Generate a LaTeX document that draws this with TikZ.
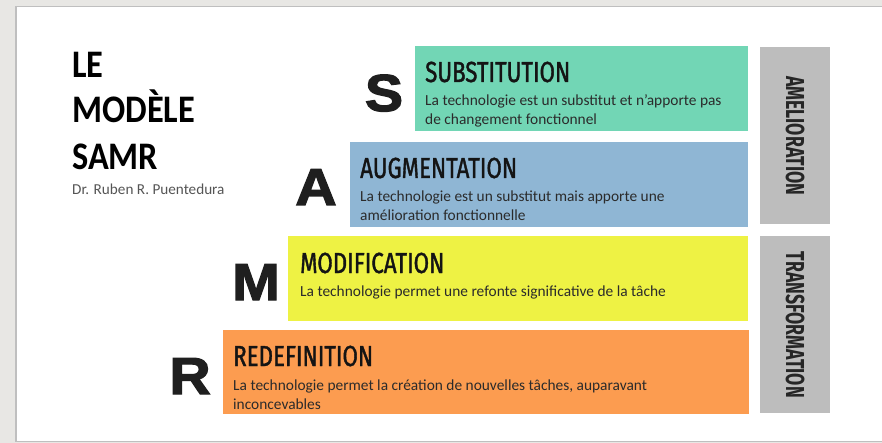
\documentclass[tikz,border=0pt]{standalone}
\usepackage{fontspec}
\setmainfont{Carlito}
\newfontfamily\headfont[FakeStretch=0.77,FakeBold=1.3]{Fira Sans}
\newfontfamily\sidefont[FakeStretch=0.68]{Fira Sans}
\newfontfamily\titlefont[FakeStretch=0.88]{Carlito}
\newfontfamily\bigfont[FakeStretch=1.1,FakeBold=2.5]{Liberation Sans}
\definecolor{bgc}{HTML}{E8E7E4}
\definecolor{scol}{HTML}{72D6B5}
\definecolor{acol}{HTML}{8FB6D4}
\definecolor{mcol}{HTML}{EEF244}
\definecolor{rcol}{HTML}{FC9C50}
\definecolor{gcol}{HTML}{BDBDBD}
\definecolor{bodytxt}{HTML}{2B2B2B}
\definecolor{subtxt}{HTML}{555555}
\tikzset{
  box/.style={draw=none, inner sep=0pt, anchor=north west},
  head/.style={inner sep=0pt, anchor=base west, text=black!92, font=\headfont\fontsize{29}{30}\selectfont},
  body/.style={inner sep=0pt, anchor=base west, text=bodytxt, font=\fontsize{15.4}{19}\selectfont},
  big/.style={inner sep=0pt, anchor=base, text=black!88, font=\bigfont\bfseries\fontsize{52}{54}\selectfont},
  side/.style={inner sep=0pt, rotate=-90, text=black!85, font=\sidefont\bfseries\fontsize{26}{27}\selectfont},
  title/.style={inner sep=0pt, anchor=base west, text=black, font=\titlefont\bfseries\fontsize{39}{40}\selectfont},
}
\begin{document}
\begin{tikzpicture}[x=1pt,y=-1pt]
\useasboundingbox (0,0) rectangle (882,443);
\fill[bgc] (0,0) rectangle (882,443);
\fill[black!25] (15,6) rectangle (882,442);
\fill[white] (17,7) rectangle (882,441);
% title
\node[title] (t1) at (72,78) {LE};
\node[title] (t2) at (72,123) {MODÈLE};
\node[title] (t3) at (72,170) {SAMR};
\node[inner sep=0pt, anchor=base west, text=subtxt, font=\fontsize{15.2}{17}\selectfont] (t4) at (72,195) {Dr. Ruben R. Puentedura};
% boxes
\node[box, fill=scol, minimum width=333pt, minimum height=85pt] (S) at (415,46) {};
\node[box, fill=acol, minimum width=398pt, minimum height=85pt] (A) at (350,142) {};
\node[box, fill=mcol, minimum width=460pt, minimum height=85pt] (M) at (288,236) {};
\node[box, fill=rcol, minimum width=526pt, minimum height=84pt] (R) at (223,330) {};
% side boxes
\node[box, fill=gcol, minimum width=70pt, minimum height=177pt] (G1) at (760,47) {};
\node[box, fill=gcol, minimum width=70pt, minimum height=177pt] (G2) at (760,236) {};
\node[side] (g1t) at (G1.center) {AMELIORATION};
\node[side] (g2t) at (G2.center) {TRANSFORMATION};
% big letters
\node[big] (LS) at (384,111) {S};
\node[big] (LA) at (316,205) {A};
\node[big] (LM) at (256,300) {M};
\node[big] (LR) at (190,394) {R};
% texts
\node[head] (Sh) at ([shift={(10,36)}]S.north west) {SUBSTITUTION};
\node[body] (Sb1) at ([shift={(10,60)}]S.north west) {La technologie est un substitut et n’apporte pas};
\node[body] (Sb2) at ([shift={(10,79)}]S.north west) {de changement fonctionnel};
\node[head] (Ah) at ([shift={(10,36)}]A.north west) {AUGMENTATION};
\node[body] (Ab1) at ([shift={(10,60)}]A.north west) {La technologie est un substitut mais apporte une};
\node[body] (Ab2) at ([shift={(10,79)}]A.north west) {amélioration fonctionnelle};
\node[head] (Mh) at ([shift={(12,37)}]M.north west) {MODIFICATION};
\node[body] (Mb1) at ([shift={(12,60)}]M.north west) {La technologie permet une refonte significative de la tâche};
\node[head] (Rh) at ([shift={(10,36)}]R.north west) {REDEFINITION};
\node[body] (Rb1) at ([shift={(10,60)}]R.north west) {La technologie permet la création de nouvelles tâches, auparavant};
\node[body] (Rb2) at ([shift={(10,79)}]R.north west) {inconcevables};
\end{tikzpicture}
\end{document}
